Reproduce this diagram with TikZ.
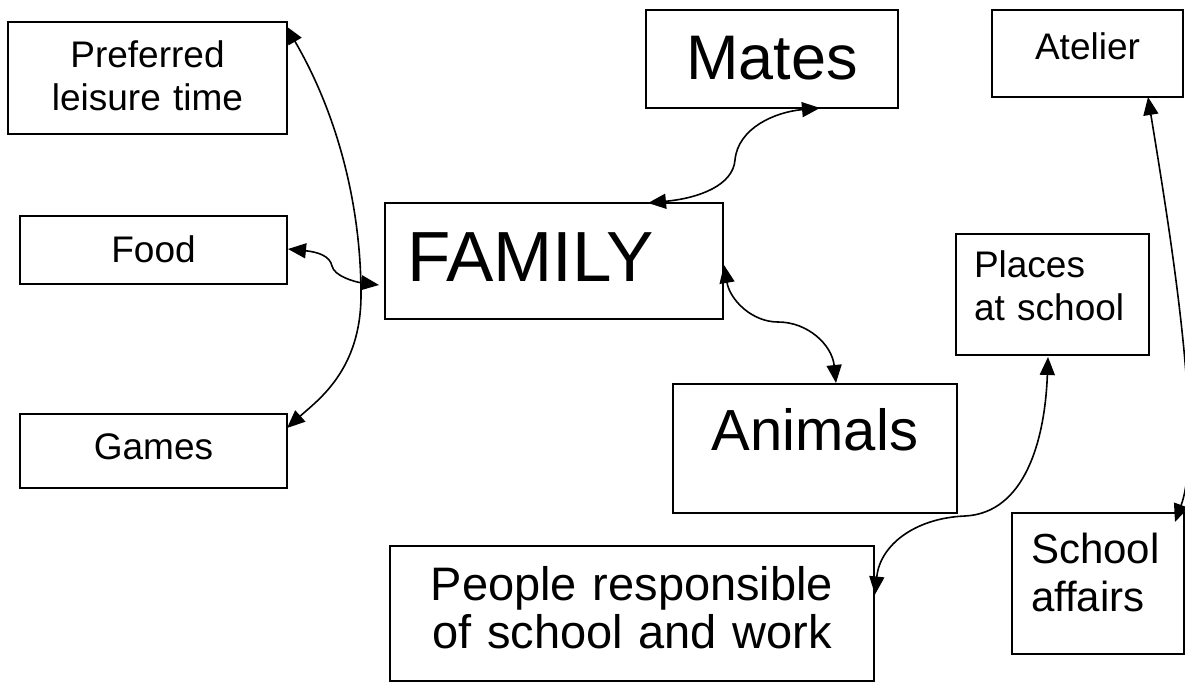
\documentclass[tikz,border=0pt]{standalone}
\usepackage{fontspec}
\setmainfont{Liberation Sans}
\usetikzlibrary{arrows.meta,calc}

\begin{document}
\begin{tikzpicture}[x=0.5pt,y=-0.5pt,
  box/.style={draw,line width=0.8pt,inner sep=0pt,outer sep=0pt,anchor=north west},
  link/.style={line width=0.8pt,>={Triangle[length=9pt,width=7.5pt]},<->},
  lbl/.style={inner sep=0pt,outer sep=0pt,anchor=base},
  smalltxt/.style={font=\fontsize{18.5}{21.5}\selectfont}]
\useasboundingbox (0,0) rectangle (1185,682);
\clip (0,0) rectangle (1185,682);

% boxes
\node[box,minimum width=139.5pt,minimum height=56pt] (leis) at (8,22) {};
\node[box,minimum width=133.5pt,minimum height=34pt] (food) at (20,216) {};
\node[box,minimum width=133.5pt,minimum height=37pt] (games) at (20,414) {};
\node[box,minimum width=169pt,minimum height=58pt] (fam) at (385,203) {};
\node[box,minimum width=126pt,minimum height=49pt] (mates) at (646,10) {};
\node[box,minimum width=95.5pt,minimum height=43.5pt] (atel) at (992,10) {};
\node[box,minimum width=96.5pt,minimum height=60.5pt] (places) at (956,234) {};
\node[box,minimum width=142pt,minimum height=64.5pt] (anim) at (673,384) {};
\node[box,minimum width=242pt,minimum height=67.5pt] (people) at (390,546) {};
\node[box,minimum width=86pt,minimum height=70.5pt] (school) at (1012,513) {};

% labels
\node[lbl,smalltxt,text width=130pt,align=center] (t-leis) at (147.5,67) {Preferred\\leisure time};
\node[lbl,smalltxt] (t-food) at (153.5,262) {Food};
\node[lbl,smalltxt] (t-games) at (153.5,459) {Games};
\node[lbl,font=\fontsize{35.5}{40}\selectfont,anchor=base west] (t-fam) at (407,281) {FAMILY};
\node[lbl,font=\fontsize{31.5}{36}\selectfont] (t-mates) at (772,79) {Mates};
\node[lbl,smalltxt] (t-atel) at (1087.5,59) {Atelier};
\node[lbl,smalltxt,anchor=base west,text width=90pt,align=left] (t-places) at (974,277) {Places\\at school};
\node[lbl,font=\fontsize{29}{34}\selectfont] (t-anim) at (815,450) {Animals};
\node[lbl,font=\fontsize{23.5}{24}\selectfont,text width=240pt,align=center] (t-people) at (632,600) {People responsible\\of school and work};
\node[lbl,font=\fontsize{21}{24}\selectfont,anchor=base west,text width=80pt,align=left] (t-school) at (1031,563) {School\\affairs};

% connectors
\draw[link] ($(leis.north east)+(-1,4)$) .. controls (335,110) and (361,200) .. (361,295)
  .. controls (361,370) and (318,400) .. ($(games.north east)+(0,14)$);
\draw[link] ($(food.east)+(1,-1)$) .. controls (318,252) and (330,256) .. (332,266)
  .. controls (334,276) and (355,282) .. ($(fam.west)+(-6,24)$);
\draw[link] ($(fam.north)+(94,0)$) .. controls (700,198) and (733,185) .. (735,160)
  .. controls (738,128) and (775,112) .. ($(mates.south)+(48,0)$);
\draw[link] ($(fam.east)+(1,4)$) .. controls (730,300) and (752,322) .. (778,322)
  .. controls (808,322) and (832,345) .. ($(anim.north)+(21,-1)$);
\draw[link] ($(people.east)+(1,-19)$) .. controls (880,545) and (915,518) .. (965,516)
  .. controls (1025,513) and (1045,440) .. ($(places.south)+(-4.5,2)$);
\draw[link] ($(atel.south)+(60.5,0)$) .. controls (1168,220) and (1205,440) .. ($(school.north east)+(-9,9)$);
\end{tikzpicture}
\end{document}
